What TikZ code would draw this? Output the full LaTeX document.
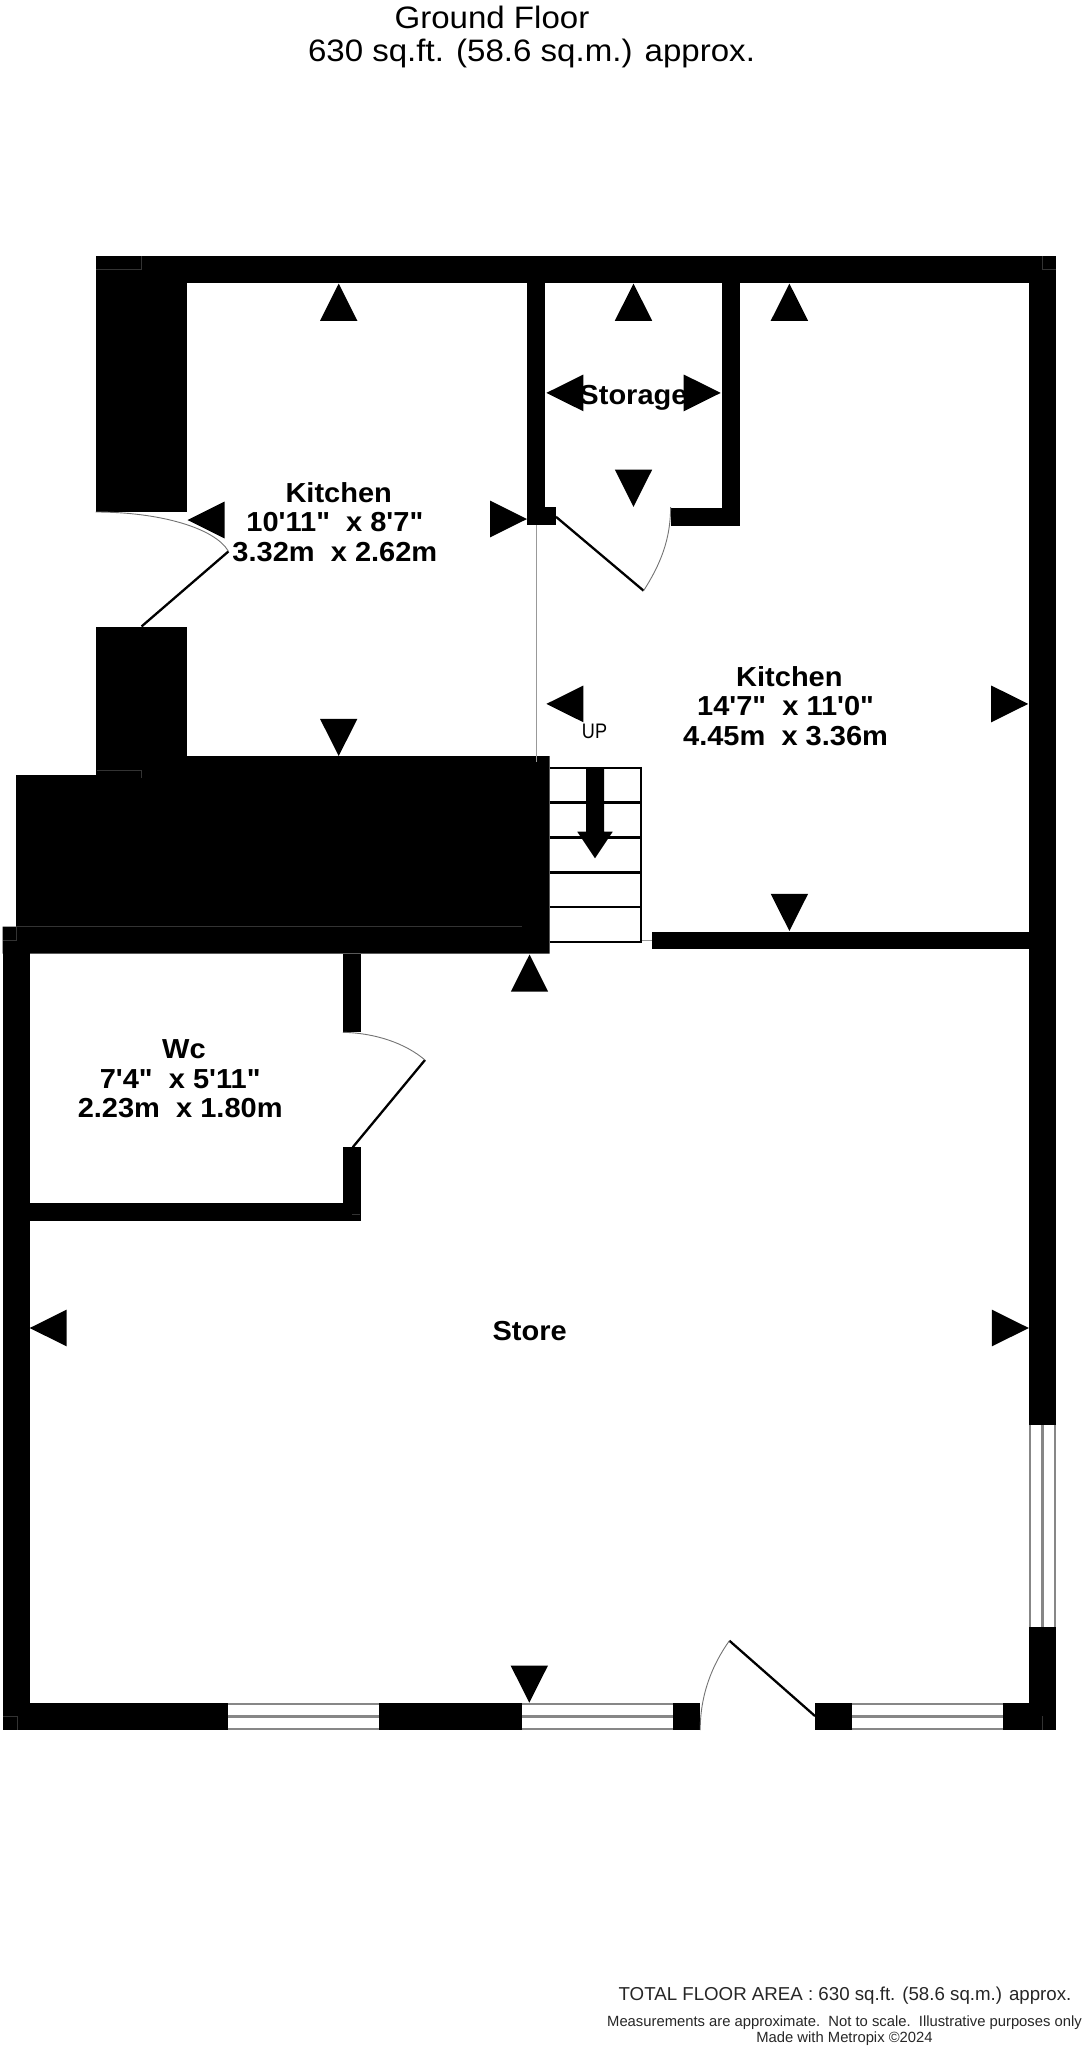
\documentclass[tikz,border=0pt]{standalone}
\usepackage{fontspec}
\setmainfont{Liberation Sans}
\newfontfamily\roomfont{Liberation Sans}[FakeStretch=1.055]
\newfontfamily\titlefont{Liberation Sans}[FakeStretch=1.066]
\newfontfamily\upfont{Liberation Sans}[FakeStretch=0.86]
\newcommand{\tsp}{\hbox to 0.278em{}}
\newcommand{\arU}[2]{\fill (#1-18.7,#2+37.2) -- (#1,#2) -- (#1+18.7,#2+37.2) -- cycle;}
\newcommand{\arD}[2]{\fill (#1-18.7,#2-37.2) -- (#1,#2) -- (#1+18.7,#2-37.2) -- cycle;}
\newcommand{\arL}[2]{\fill (#1+37,#2-18.4) -- (#1,#2) -- (#1+37,#2+18.4) -- cycle;}
\newcommand{\arR}[2]{\fill (#1-37,#2-18.4) -- (#1,#2) -- (#1-37,#2+18.4) -- cycle;}
\tikzset{
  roomlabel/.style={inner sep=0pt,anchor=base,align=center,font=\roomfont\fontsize{27.5}{29.3}\selectfont\bfseries},
  plainlabel/.style={inner sep=0pt,anchor=base,align=center},
  leaf/.style={draw=black,line width=2.3pt},
  swing/.style={draw=black!55,line width=0.9pt},
  glass/.style={draw=black!47,line width=2.2pt},
  tread/.style={draw=black,line width=2.4pt},
  hair/.style={draw=black!80,line width=0.6pt},
  fine/.style={draw=black!40,line width=1pt},
}
\begin{document}
\begin{tikzpicture}[x=1pt,y=-1pt]
\useasboundingbox (0,0) rectangle (1085,2048);
% walls
\fill (96,255.7) rectangle (1056,282.5);
\fill (96,255.7) rectangle (186.8,512);
\fill (96,627) rectangle (186.8,760);
\fill (186.8,756) -- (549.5,756) -- (549.5,953.7) -- (2.7,953.7) -- (2.7,926.7) -- (16,926.7) -- (16,775.2) -- (96,775.2) -- (96,760) -- (186.8,760) -- cycle;
\fill (527.3,255.7) rectangle (545,525.3);
\fill (527.3,507.4) rectangle (555.8,525.3);
\fill (722,255.7) rectangle (739.7,525.5);
\fill (670.6,507.5) rectangle (739.7,525.5);
\fill (1029,255.7) rectangle (1056,1425);
\fill (1029,1626.7) rectangle (1056,1730);
\fill (652,931.7) rectangle (1029,949.3);
\fill (2.7,926.7) rectangle (29.5,1730);
\fill (342.9,953.7) rectangle (360.7,1032.3);
\fill (342.9,1147.3) rectangle (360.7,1221);
\fill (29.5,1203.3) rectangle (360.7,1221);
\fill (2.7,1702.7) rectangle (227.5,1730);
\fill (378.6,1702.7) rectangle (521.8,1730);
\fill (673.2,1702.7) rectangle (700.2,1730);
\fill (815,1702.7) rectangle (852.2,1730);
\fill (1003.2,1702.7) rectangle (1056,1730);
% hairlines inside the black
\draw[hair] (96,269) -- (141,269) -- (141,256);
\draw[hair] (1056,269) -- (1042.3,269) -- (1042.3,256);
\draw[hair] (97,770) -- (141.6,770) -- (141.6,778);
\draw[hair] (16,926.7) -- (522,926.7);
\draw[hair] (3,940) -- (16,940) -- (16,927);
\draw[hair] (3,1716) -- (17,1716) -- (17,1730);
\draw[hair] (1042,1716) -- (1042,1730);
\draw[hair] (352,1214) -- (360,1214);
% windows
\foreach \y in {1703.8,1716.4,1729}{
  \draw[glass] (227.5,\y) -- (378.6,\y);
  \draw[glass] (521.8,\y) -- (673.2,\y);
  \draw[glass] (852.2,\y) -- (1003.2,\y);
}
\foreach \x in {1030.1,1042.5,1054.9}{
  \draw[glass] (\x,1425) -- (\x,1626.7);
}
% doors
\draw[leaf] (141.6,626.4) -- (228.5,551.4);
\draw[swing] (95.7,512) .. controls (160,512) and (215,528) .. (228.5,551.4);
\draw[leaf] (556,516.8) -- (643.6,590.7);
\draw[swing] (670.6,507) .. controls (670.6,540) and (660,565) .. (643.6,590.7);
\draw[leaf] (352.7,1147.3) -- (425,1060);
\draw[swing] (342.9,1032.3) .. controls (375,1033) and (405,1043) .. (425,1060);
\draw[leaf] (815,1716) -- (729.4,1640.7);
\draw[swing] (700.2,1730) .. controls (700.2,1695) and (712,1665) .. (729.4,1640.7);
% thin lines
\draw[fine] (536,525) -- (536,762);
\draw[fine] (641,940.7) -- (652,940.7);
% stairs
\foreach \y in {768,802.3,837.3,872.3,907,941.7}{
  \draw[tread] (549.5,\y) -- (641.2,\y);
}
\draw[tread] (641.2,766.8) -- (641.2,942.9);
\fill (586,768) -- (604,768) -- (604,831.7) -- (612.7,831.7) -- (595,858.3) -- (577.3,831.7) -- (586,831.7) -- cycle;
% markers
\arU{338.7}{283.6}
\arD{338.7}{756}
\arL{187.5}{520}
\arR{527}{519}
\arU{633.5}{283.6}
\arD{633.5}{506.8}
\arL{546.4}{392.9}
\arR{720.7}{392.9}
\arU{789.4}{283.6}
\arD{789.4}{931}
\arL{546.4}{703.9}
\arR{1028.2}{703.9}
\arU{529.5}{954.5}
\arD{529.3}{1702.7}
\arL{29.7}{1328}
\arR{1028.8}{1328}
% labels
\node[roomlabel] (kitchena) at (338.7,561) {Kitchen\\10'11"~~x 8'7"\tsp\\3.32m~~x 2.62m\tsp};
\node[roomlabel] (storage) at (633.5,404) {Storage};
\node[roomlabel] (kitchenb) at (789.4,745) {Kitchen\\14'7"~~x 11'0"\tsp\\4.45m~~x 3.36m\tsp};
\node[roomlabel] (wc) at (184,1117.3) {Wc\\7'4"~~x 5'11"\tsp\\2.23m~~x 1.80m\tsp};
\node[roomlabel] (store) at (529.6,1340) {Store};
\node[plainlabel,font=\upfont\fontsize{21}{21}\selectfont] (up) at (594.5,738) {UP};
\node[plainlabel,font=\titlefont\fontsize{31}{33.4}\selectfont] (title) at (531.5,61.7) {Ground Floor\hbox to 2.55em{}\\630 sq.ft. (58.6 sq.m.) approx.};
\node[plainlabel,font=\fontsize{18.7}{19}\selectfont,text=black!85] (total) at (845,2000.7) {TOTAL FLOOR AREA : 630 sq.ft. (58.6 sq.m.) approx.};
\node[plainlabel,font=\fontsize{14.8}{16}\selectfont,text=black!85] (note) at (844.5,2042) {Measurements are approximate.~~Not to scale.~~Illustrative purposes only\\Made with Metropix ©2024};
\end{tikzpicture}
\end{document}
